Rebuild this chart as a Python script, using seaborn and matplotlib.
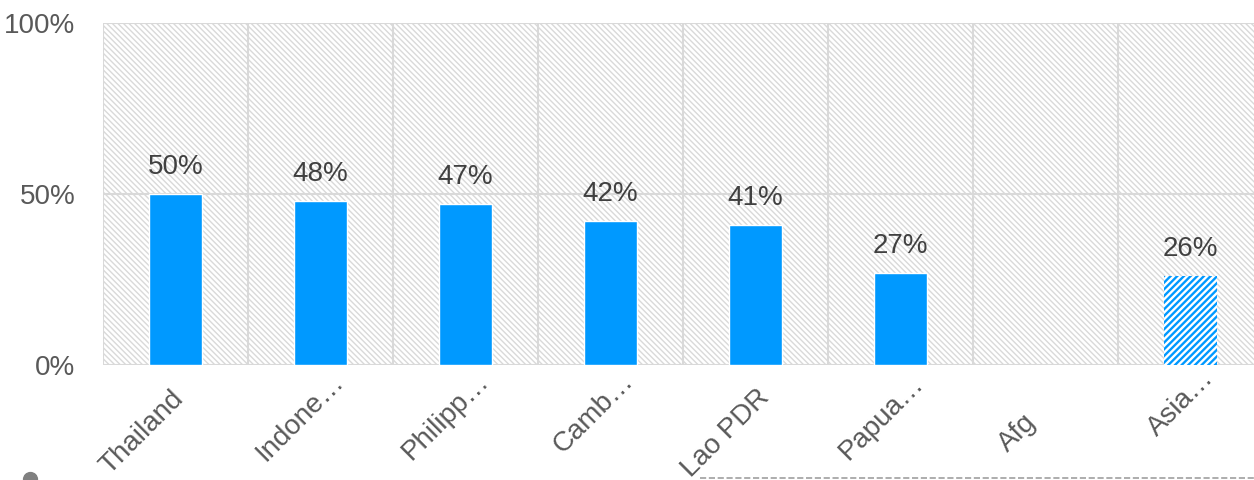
import numpy as np
import pandas as pd
import matplotlib
matplotlib.use('Agg')
import matplotlib.pyplot as plt
import seaborn as sns
from matplotlib.patches import Rectangle
from matplotlib.lines import Line2D
from matplotlib.ticker import FixedLocator, PercentFormatter

# data
countries = ['Thailand', 'Indone…', 'Philipp…', 'Camb…', 'Lao PDR', 'Papua…', 'Afg', 'Asia…']
shares = [50, 48, 47, 42, 41, 27, np.nan, 26]
value_labels = ['50%', '48%', '47%', '42%', '41%', '27%', '', '26%']

# where each rotated category label sits, pixels right / down of its tick
label_offsets = [(-5, 21), (10, 3), (10, 3), (10, 3), (1, 19), (10, 5), (-23, 44), (10, 0)]

df = pd.DataFrame({'country': countries, 'share': shares})

sns.set_theme(style='white')
plt.rcParams['font.family'] = ['Liberation Sans', 'DejaVu Sans']
plt.rcParams['hatch.linewidth'] = 1.0

blue = '#0099FF'
grid_c = '#D9D9D9'

fig = plt.figure(figsize=(12.54, 4.8), dpi=100)
ax = fig.add_axes([103 / 1254, 115 / 480, 1160 / 1254, 342 / 480])

# hatched background
bg = Rectangle((0, 0), 1, 1, transform=ax.transAxes, facecolor='white',
               edgecolor='#D9D9D9', hatch='\\' * 6, linewidth=0, zorder=0)
ax.add_patch(bg)

sns.barplot(data=df, x='country', y='share', order=countries, color=blue,
            width=0.365, saturation=1, ax=ax, zorder=3)

# regional average bar is drawn hatched
for p in ax.patches:
    if p is bg:
        continue
    cx = p.get_x() + p.get_width() / 2
    if abs(cx - 7) < 0.1:
        p.set_facecolor('white')
        p.set_edgecolor(blue)
        p.set_hatch('/' * 5)
        p.set_linewidth(0)
        if hasattr(p, 'set_hatch_linewidth'):
            p.set_hatch_linewidth(1.7)

# value labels
for i, (v, lab) in enumerate(zip(shares, value_labels)):
    if np.isnan(v):
        continue
    ax.annotate(lab, (i, v), xytext=(0, 10), textcoords='offset points',
                ha='center', va='bottom', fontsize=20, color='#404040', zorder=4)

ax.set_xlim(-0.5, 7.5)
ax.set_ylim(0, 100)
ax.yaxis.set_major_locator(FixedLocator([0, 50, 100]))
ax.yaxis.set_major_formatter(PercentFormatter(decimals=0))
ax.xaxis.set_minor_locator(FixedLocator(np.arange(-0.5, 8, 1)))
ax.grid(True, axis='y', which='major', color=grid_c, linewidth=1.5, zorder=1)
ax.grid(True, axis='x', which='minor', color=grid_c, linewidth=1.5, zorder=1)
ax.grid(False, axis='x', which='major')
ax.set_axisbelow(True)
for s in ax.spines.values():
    s.set_visible(False)
ax.set_xlabel('')
ax.set_ylabel('')
ax.tick_params(axis='both', which='both', length=0, labelsize=20, labelcolor='#595959')
ax.tick_params(axis='y', pad=20)
ax.set_xticklabels([])

# rotated category labels
for i, (name, (dx, dy)) in enumerate(zip(countries, label_offsets)):
    ax.annotate(name, xy=(i, 0), xycoords=('data', 'axes fraction'),
                xytext=(dx, -dy), textcoords='offset pixels',
                rotation=45, ha='right', va='top', rotation_mode='anchor',
                fontsize=20, color='#595959', annotation_clip=False)

# remnants of the legend at the bottom edge
fig.add_artist(Line2D([700 / 1254, 1], [2 / 480, 2 / 480], transform=fig.transFigure,
                      color='#A0A0A0', linestyle='--', linewidth=1.2))
fig.add_artist(Line2D([30 / 1254], [1 / 480], transform=fig.transFigure,
                      marker='o', markersize=10, color='#808080', linestyle='none'))

fig.savefig('out.png', dpi=100)
